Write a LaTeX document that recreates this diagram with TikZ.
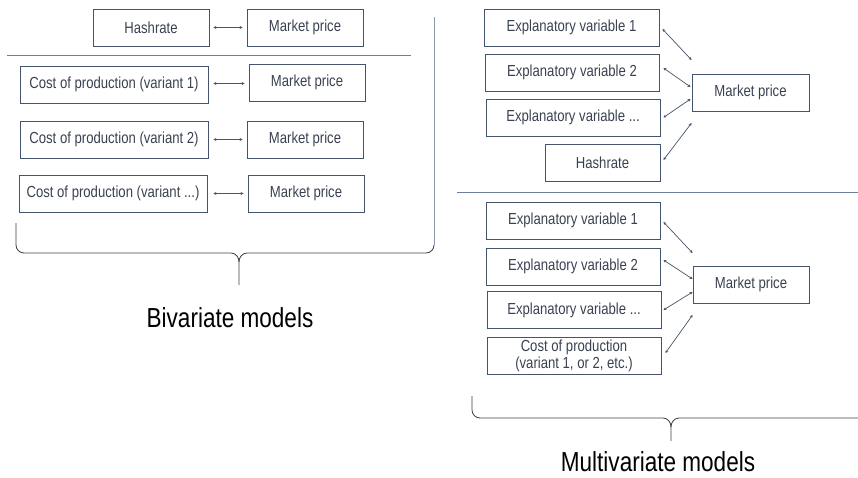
\documentclass[tikz,border=0pt]{standalone}
\usepackage{fontspec}
\setmainfont[FakeStretch=0.82]{Liberation Sans}
\usepackage{tikz}
\usetikzlibrary{shapes,arrows,arrows.meta}
\definecolor{boxline}{HTML}{44546A}
\definecolor{boxtext}{HTML}{3A4150}
\definecolor{sepline}{HTML}{6E7F98}
\definecolor{braceline}{HTML}{404040}
\tikzstyle{box} = [draw=boxline, line width=0.9pt, text=boxtext, minimum height=37pt, inner sep=0pt, align=center, font=\fontsize{16}{17}\selectfont]
\tikzstyle{invis} = [draw=none]
\tikzstyle{link} = [boxline, line width=0.7pt, {Stealth[length=3pt,width=3pt]}-{Stealth[length=3pt,width=3pt]}]
\tikzstyle{sep} = [sepline, line width=0.9pt]
\tikzstyle{brace} = [braceline, line width=0.8pt]
\tikzstyle{models} = [draw=none, anchor=base, inner sep=0pt, text=black, font=\fontsize{27.5}{30}\selectfont]

\begin{document}
\begin{tikzpicture}[x=1pt,y=-1pt]

    \useasboundingbox (0,0) rectangle (858,478);

    \node[box, minimum width=116pt] at (151,27.5) (hash) [] {Hashrate};
    \node[box, minimum width=116pt] at (305,27.5) (mp0) [] {Market price};

    \node[box, minimum width=188pt] at (114,84.5) (cost1) [] {Cost of production (variant 1)};
    \node[box, minimum width=116pt] at (307,82.5) (mp1) [] {Market price};
    \node[box, minimum width=188pt] at (114,139.5) (cost2) [] {Cost of production (variant 2)};
    \node[box, minimum width=116pt] at (305,139.5) (mp2) [] {Market price};
    \node[box, minimum width=188pt] at (113,193.5) (cost3) [] {Cost of production (variant ...)};
    \node[box, minimum width=116pt] at (306,193.5) (mp3) [] {Market price};

    \path
    ([xshift=4pt]hash.east) edge [link] node {} ([xshift=-4pt]mp0.west)
    ([xshift=5pt,yshift=1pt]cost1.east) edge [link] node {} ([xshift=-4pt,yshift=-1pt]mp1.west)
    ([xshift=5pt]cost2.east) edge [link] node {} ([xshift=-4pt]mp2.west)
    ([xshift=6pt]cost3.east) edge [link] node {} ([xshift=-4pt]mp3.west);

    \draw[sep] (7,55) -- (411,55);

    % brace under the bivariate models
    \draw[brace] (16,223) -- (16,245) to[out=-90,in=180] (24,253) -- (231,253)
        to[out=0,in=90] (239,262) -- (239,285);
    \draw[brace] (239,262) to[out=90,in=180] (247,253) -- (426,253)
        to[out=0,in=-90] (434,245);
    \draw[sep, color=sepline!80] (434,245) -- (434,17);

    \node[models] at (230,327) (bivar) [] {Bivariate models};

    %=====================

    \node[box, minimum width=175pt] at (571.5,27.5) (ev1) [] {Explanatory variable 1};
    \node[box, minimum width=174pt] at (572,72.5) (ev2) [] {Explanatory variable 2};
    \node[box, minimum width=174pt] at (573,117.5) (evx) [] {Explanatory variable ...};
    \node[box, minimum width=115pt] at (602.5,162.5) (hash2) [] {Hashrate};
    \node[box, minimum width=117pt] at (750.5,92.5) (mpA) [] {Market price};

    \path
    ([xshift=3pt,yshift=-1.5pt]ev1.east) edge [link] node {} ([yshift=32.5pt]mpA.west)
    ([xshift=4pt,yshift=4.5pt]ev2.east) edge [link] node {} ([xshift=-1pt,yshift=5.5pt]mpA.west)
    ([xshift=3pt]evx.east) edge [link] node {} ([xshift=-1pt,yshift=-6.5pt]mpA.west)
    ([xshift=3pt,yshift=2.5pt]hash2.east) edge [link] node {} ([yshift=-30.5pt]mpA.west);

    \draw[sep] (457,192) -- (858,192);

    %=====================

    \node[box, minimum width=174pt] at (573,220.5) (ev1b) [] {Explanatory variable 1};
    \node[box, minimum width=174pt] at (573,266.5) (ev2b) [] {Explanatory variable 2};
    \node[box, minimum width=174pt] at (574,310) (evxb) [] {Explanatory variable ...};
    \node[box, minimum width=174pt] at (574,355.5) (costb) [] {Cost of production\\(variant 1, or 2, etc.)};
    \node[box, minimum width=116pt] at (751,284.5) (mpB) [] {Market price};

    \path
    ([xshift=3pt,yshift=-1.5pt]ev1b.east) edge [link] node {} ([yshift=31.5pt]mpB.west)
    ([xshift=3pt,yshift=6.5pt]ev2b.east) edge [link] node {} ([yshift=5.5pt]mpB.west)
    ([xshift=2pt]evxb.east) edge [link] node {} ([yshift=-7.5pt]mpB.west)
    ([xshift=4pt,yshift=2.5pt]costb.east) edge [link] node {} ([yshift=-30.5pt]mpB.west);

    % brace under the multivariate models
    \draw[brace] (472,396) -- (472,410) to[out=-90,in=180] (480,418) -- (663,418)
        to[out=0,in=90] (671,427) -- (671,441);
    \draw[brace] (671,427) to[out=90,in=180] (679,418) -- (858,418);

    \node[models] at (658,471) (multivar) [] {Multivariate models};

\end{tikzpicture}
\end{document}
